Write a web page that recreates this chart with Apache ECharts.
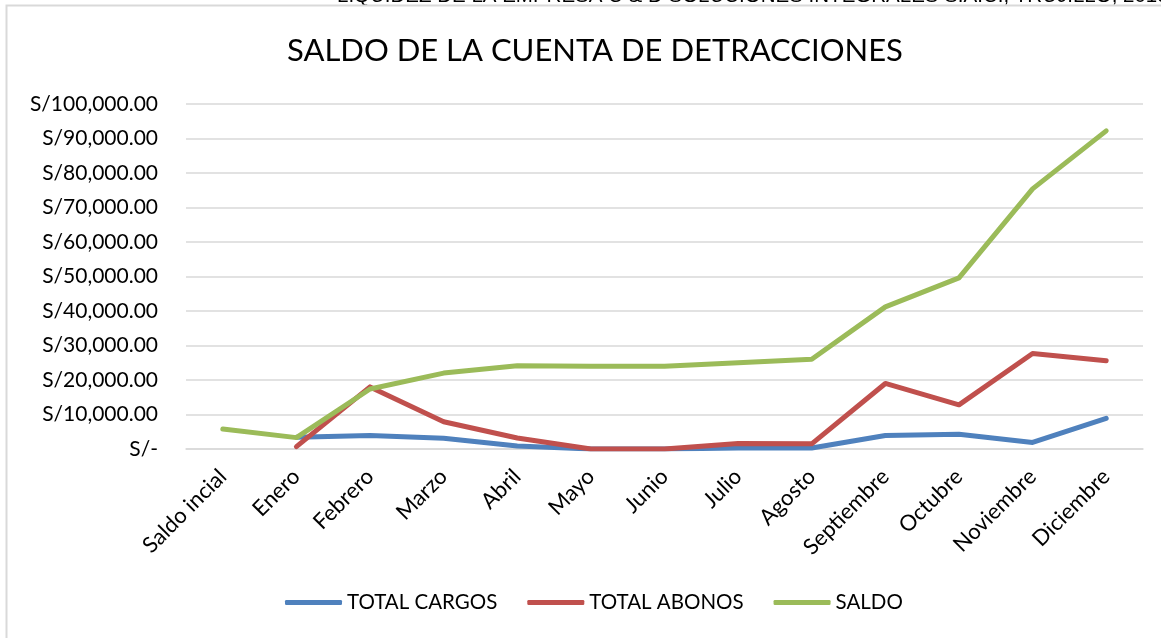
<!DOCTYPE html>
<html>
<head>
<meta charset="utf-8">
<script src="https://cdn.jsdelivr.net/npm/echarts@6/dist/echarts.min.js"></script>
<style>
  html, body { margin: 0; padding: 0; background: #fff; }
  #main { width: 1161px; height: 638px; }
</style>
</head>
<body>
<div id="main"></div>
<script>
var categories = ['Saldo incial', 'Enero', 'Febrero', 'Marzo', 'Abril', 'Mayo', 'Junio',
    'Julio', 'Agosto', 'Septiembre', 'Octubre', 'Noviembre', 'Diciembre'];
var totalCargos = [null, 3400, 3900, 3100, 900, 0, 0, 300, 300, 3900, 4300, 1900, 8900];
var totalAbonos = [null, 700, 18000, 7900, 3200, 0, 0, 1600, 1500, 19000, 12800, 27700, 25600];
var saldo = [5800, 3300, 17400, 22000, 24100, 24000, 24000, 25000, 26000, 41200, 49600, 75400, 92200];

var FONT = 'Lato, "Open Sans", sans-serif';

function money(v) {
    if (v === 0) return 'S/-';
    return 'S/' + v.toLocaleString('en-US', { minimumFractionDigits: 2, maximumFractionDigits: 2 });
}

function line(name, data, color) {
    return {
        name: name,
        type: 'line',
        data: data,
        showSymbol: false,
        symbol: 'none',
        connectNulls: false,
        lineStyle: { color: color, width: 5, cap: 'round', join: 'round' },
        itemStyle: { color: color }
    };
}

var myChart = echarts.init(document.getElementById('main'));
var option = {
    animation: false,
    backgroundColor: '#fff',
    title: {
        text: 'SALDO DE LA CUENTA DE DETRACCIONES',
        left: 282,
        top: 30,
        textStyle: { fontFamily: FONT, fontSize: 31, fontWeight: 'normal', color: '#000' }
    },
    graphic: [{
        type: 'rect',
        shape: { x: 6.5, y: 5.5, width: 1300, height: 800 },
        style: { fill: 'none', stroke: '#d9d9d9', lineWidth: 2 }
    }, {
        type: 'text',
        left: 337,
        top: -14,
        z: -1,
        style: {
            text: 'LIQUIDEZ DE LA EMPRESA C & D SOLUCIONES INTEGRALES S.A.C., TRUJILLO, 2019',
            font: '20.5px "Liberation Sans", Arial, sans-serif',
            fill: '#000'
        }
    }],
    legend: {
        bottom: 20,
        left: 280,
        itemWidth: 57,
        itemHeight: 5,
        itemGap: 30,
        icon: 'roundRect',
        textStyle: { fontFamily: FONT, fontSize: 20.5, color: '#000' },
        data: ['TOTAL CARGOS', 'TOTAL ABONOS', 'SALDO']
    },
    grid: { left: 186, right: 18, top: 104, bottom: 189 },
    xAxis: {
        type: 'category',
        data: categories,
        boundaryGap: true,
        axisTick: { show: false },
        axisLine: { lineStyle: { color: '#d9d9d9', width: 1.5 } },
        axisLabel: {
            rotate: 45,
            margin: 24,
            interval: 0,
            fontFamily: FONT,
            fontSize: 22,
            color: '#000'
        }
    },
    yAxis: {
        type: 'value',
        min: 0,
        max: 100000,
        interval: 10000,
        axisLine: { show: false },
        axisTick: { show: false },
        splitLine: { lineStyle: { color: '#d9d9d9', width: 1.5 } },
        axisLabel: {
            margin: 28,
            fontFamily: FONT,
            fontSize: 21,
            color: '#000',
            formatter: money
        }
    },
    series: [
        line('TOTAL CARGOS', totalCargos, '#4f81bd'),
        line('TOTAL ABONOS', totalAbonos, '#c0504d'),
        line('SALDO', saldo, '#9bbb59')
    ]
};
myChart.setOption(option);
</script>
</body>
</html>
